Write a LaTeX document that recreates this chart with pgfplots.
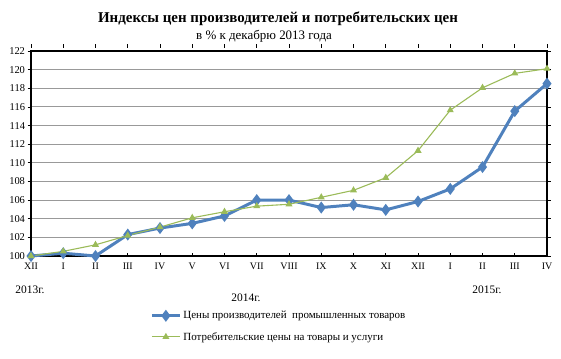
\documentclass[border=0pt]{standalone}
\usepackage{pgfplots}
\pgfplotsset{compat=1.18}
\usepackage{fontspec}
\setmainfont{Liberation Serif}
\definecolor{cblue}{RGB}{79,129,189}
\definecolor{cgreen}{RGB}{155,187,89}
\begin{document}
\begin{tikzpicture}[x=1bp,y=1bp]
\path[use as bounding box] (-31,-102) rectangle (530,256);
\begin{axis}[
  at={(0,0)}, anchor=origin,
  scale only axis, width=516bp, height=205bp,
  xmin=0, xmax=16, ymin=100, ymax=122,
  xtick={0,...,16},
  xticklabels={XII,I,II,III,IV,V,VI,VII,VIII,IX,X,XI,XII,I,II,III,IV},
  ytick={100,102,...,122},
  /pgf/number format/assume math mode=true,
  xticklabel style={font=\fontsize{10}{11}\selectfont},
  yticklabel style={font=\fontsize{10.5}{11}\selectfont, xshift=1bp},
  tick align=outside, major tick length=3.5bp,
  xtick style={black, line width=0.8pt, yshift=3.5bp},
  ytick style={black, line width=0.8pt},
  axis line style={black, line width=1.2pt},
  ymajorgrids, grid style={gray!80, line width=1.1pt},
  clip=false,
  legend style={at={(rel axis cs:0.231,-0.259)}, anchor=north west, draw=none, fill=none,
    inner sep=0pt, font=\fontsize{11}{13}\selectfont, row sep=8bp},
  legend image code/.code={\draw[mark repeat=2,mark phase=2] plot coordinates {(0bp,0bp) (14bp,0bp) (28bp,0bp)};},
  legend cell align=left,
]
\addplot[cblue, line width=3pt, mark=diamond*, mark size=3.6pt, mark options={solid}] coordinates {
(0,100) (1,100.3) (2,100.0) (3,102.3) (4,103.0) (5,103.5) (6,104.3) (7,106.0) (8,106.0)
(9,105.2) (10,105.5) (11,104.95) (12,105.85) (13,107.2) (14,109.55) (15,115.55) (16,118.5)};
\addlegendentry{Цены производителей\ \ промышленных товаров}
\addplot[cgreen, line width=1.1pt, mark=triangle*, mark size=3pt] coordinates {
(0,100) (1,100.5) (2,101.2) (3,102.2) (4,103.1) (5,104.1) (6,104.75) (7,105.35) (8,105.55)
(9,106.3) (10,107.05) (11,108.4) (12,111.3) (13,115.65) (14,118.05) (15,119.6) (16,120.1)};
\addlegendentry{Потребительские цены на товары и услуги}
\end{axis}
\node[font=\bfseries\fontsize{15}{17}\selectfont] at (247,237) {Индексы цен производителей и потребительских цен};
\node[font=\fontsize{13}{15}\selectfont] at (233,220) {в \% к декабрю 2013 года};
\node[font=\fontsize{11.5}{13}\selectfont] at (-1,-34) {2013г.};
\node[font=\fontsize{11.5}{13}\selectfont] at (215,-42) {2014г.};
\node[font=\fontsize{11.5}{13}\selectfont] at (456,-34) {2015г.};
\end{tikzpicture}
\end{document}
